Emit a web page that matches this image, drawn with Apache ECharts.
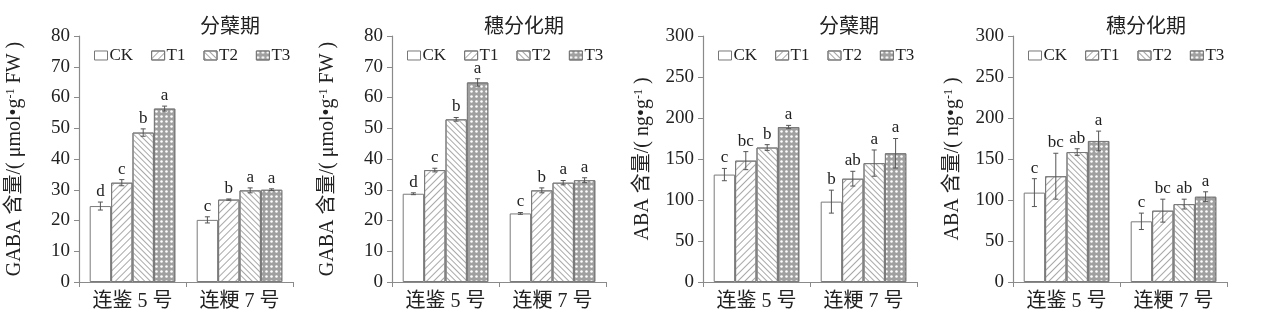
<!DOCTYPE html>
<html><head><meta charset="utf-8">
<script src="https://cdn.jsdelivr.net/npm/echarts@6/dist/echarts.min.js"></script>
<style>html,body{margin:0;padding:0;background:#fff}#c{width:1268px;height:326px}</style>
</head><body><div id="c"></div>
<script>
// ---- data ----
const categories = ['连鉴 5 号', '连粳 7 号'];
const treatments = ['CK', 'T1', 'T2', 'T3'];
const panelTitles = ['分蘖期', '穗分化期', '分蘖期', '穗分化期'];
const yMax = [80, 80, 300, 300];
const yInterval = [10, 10, 50, 50];

// means per treatment (rows CK,T1,T2,T3), columns = categories
const gabaTillerMean = [[24.7, 20.2], [32.3, 26.8], [48.6, 29.8], [56.4, 30.0]];
const gabaTillerErr  = [[1.3, 1.0], [1.0, 0.2], [1.2, 0.8], [0.8, 0.3]];
const gabaTillerSig  = [['d', 'c'], ['c', 'b'], ['b', 'a'], ['a', 'a']];

const gabaPanicleMean = [[28.7, 22.3], [36.4, 29.8], [52.9, 32.3], [64.9, 33.1]];
const gabaPanicleErr  = [[0.3, 0.3], [0.6, 0.8], [0.6, 0.7], [1.2, 0.8]];
const gabaPanicleSig  = [['d', 'c'], ['c', 'b'], ['b', 'a'], ['a', 'a']];

const abaTillerMean = [[131, 98], [148, 126], [164, 145], [189, 157]];
const abaTillerErr  = [[7.5, 14], [11, 9], [3.5, 16], [2, 18]];
const abaTillerSig  = [['c', 'b'], ['bc', 'ab'], ['b', 'a'], ['a', 'a']];

const abaPanicleMean = [[109, 74], [129, 87], [158.5, 95], [172, 104]];
const abaPanicleErr  = [[17, 10], [28, 14], [4, 6], [12, 6]];
const abaPanicleSig  = [['c', 'c'], ['bc', 'bc'], ['ab', 'ab'], ['a', 'a']];

const yNames = [
  'GABA 含量/( μmol•g{sup|-1} FW )',
  'GABA 含量/( μmol•g{sup|-1} FW )',
  'ABA 含量/( ng•g{sup|-1} )',
  'ABA 含量/( ng•g{sup|-1} )'
];

// ---- layout / style ----
const panels = [
  [gabaTillerMean, gabaTillerErr, gabaTillerSig],
  [gabaPanicleMean, gabaPanicleErr, gabaPanicleSig],
  [abaTillerMean, abaTillerErr, abaTillerSig],
  [abaPanicleMean, abaPanicleErr, abaPanicleSig]
];
const gridLeft = [79, 392, 703, 1013];
const titleX = [225, 519, 844, 1141];
const nameGaps = [54, 54, 50, 50];
const FONT = '"Liberation Serif", "Noto Sans CJK SC", serif';
const AXC = '#8a8a8a';
const TXT = '#222';

const decals = [
  null,
  { symbol: 'rect', symbolSize: 1, color: '#a8a8a8', dashArrayX: [1, 0], dashArrayY: [0.9, 3.6], rotation: -Math.PI / 4 },
  { symbol: 'rect', symbolSize: 1, color: '#a8a8a8', dashArrayX: [1, 0], dashArrayY: [0.9, 2.9], rotation: Math.PI / 4 },
  { symbol: 'circle', symbolSize: 0.85, color: '#ffffff', dashArrayX: [3, 1.2], dashArrayY: [3, 1.2], rotation: 0 }
];
const barColors = ['#fff', '#fff', '#fff', '#a0a0a0'];

const option = {
  animation: false,
  title: [], legend: [], grid: [], xAxis: [], yAxis: [], series: []
};

panels.forEach((p, gi) => {
  const [mean, err, sig] = p;
  option.grid.push({ left: gridLeft[gi], width: 214, top: 36, height: 246 });
  option.title.push({
    text: panelTitles[gi], left: titleX[gi], top: 13, textAlign: 'center',
    textStyle: { fontFamily: FONT, fontSize: 20, fontWeight: 'normal', color: TXT }
  });
  option.legend.push({
    left: gridLeft[gi] + 10, top: 42, itemWidth: 13, itemHeight: 9, itemGap: 18,
    icon: 'rect',
    data: treatments, selectedMode: false,
    textStyle: { fontFamily: FONT, fontSize: 17, color: TXT, padding: [0, 0, 0, -3] },
    itemStyle: { borderColor: '#777', borderWidth: 1 }
  });
  option.xAxis.push({
    type: 'category', gridIndex: gi, data: categories,
    axisLine: { lineStyle: { color: AXC, width: 1.2 } },
    axisTick: { show: true, length: 5, lineStyle: { color: AXC } },
    axisLabel: { fontFamily: FONT, fontSize: 20, color: TXT, margin: 10 }
  });
  option.yAxis.push({
    type: 'value', gridIndex: gi, min: 0, max: yMax[gi], interval: yInterval[gi],
    splitLine: { show: false },
    axisLine: { show: true, lineStyle: { color: AXC, width: 1.2 } },
    axisTick: { show: true, length: 5, lineStyle: { color: AXC } },
    axisLabel: { fontFamily: FONT, fontSize: 19, color: TXT, margin: 9 },
    name: yNames[gi], nameLocation: 'middle', nameGap: nameGaps[gi],
    nameTextStyle: {
      fontFamily: FONT, fontSize: 20, color: TXT,
      rich: { sup: { fontFamily: FONT, fontSize: 12, color: TXT, verticalAlign: 'top', lineHeight: 20 } }
    }
  });
  treatments.forEach((t, ti) => {
    option.series.push({
      type: 'bar', name: t, xAxisIndex: gi, yAxisIndex: gi,
      data: mean[ti], barGap: '0%', barCategoryGap: '20%',
      itemStyle: { color: barColors[ti], borderColor: '#7a7a7a', borderWidth: 1, decal: decals[ti] || undefined },
      emphasis: { disabled: true }, silent: true
    });
  });
  const errData = [];
  treatments.forEach((t, ti) => {
    categories.forEach((c, ci) => {
      errData.push([ci, ti, mean[ti][ci], err[ti][ci], sig[ti][ci]]);
    });
  });
  option.series.push({
    type: 'custom', name: 'err' + gi, xAxisIndex: gi, yAxisIndex: gi, silent: true, z: 5,
    data: errData,
    renderItem: (params, api) => {
      const ci = api.value(0), ti = api.value(1), m = api.value(2), e = api.value(3);
      const letter = errData[params.dataIndex][4];
      const top = api.coord([ci, m + e]);
      const bot = api.coord([ci, m - e]);
      const band = api.size([1, 0])[0];
      const bw = band * 0.8 / 4;
      const x = top[0] + (ti - 1.5) * bw;
      const cap = 2.5;
      const st = { stroke: '#555', lineWidth: 1 };
      return {
        type: 'group', children: [
          { type: 'line', shape: { x1: x, y1: top[1], x2: x, y2: bot[1] }, style: st },
          { type: 'line', shape: { x1: x - cap, y1: top[1], x2: x + cap, y2: top[1] }, style: st },
          { type: 'line', shape: { x1: x - cap, y1: bot[1], x2: x + cap, y2: bot[1] }, style: st },
          { type: 'text', x: x, y: top[1] - 2, style: { text: letter, x: 0, y: 0, align: 'center', verticalAlign: 'bottom', font: '17px ' + FONT, fill: TXT } }
        ]
      };
    }
  });
});

const chart = echarts.init(document.getElementById('c'), null, { renderer: 'canvas' });
chart.setOption(option);
</script>
</body></html>
